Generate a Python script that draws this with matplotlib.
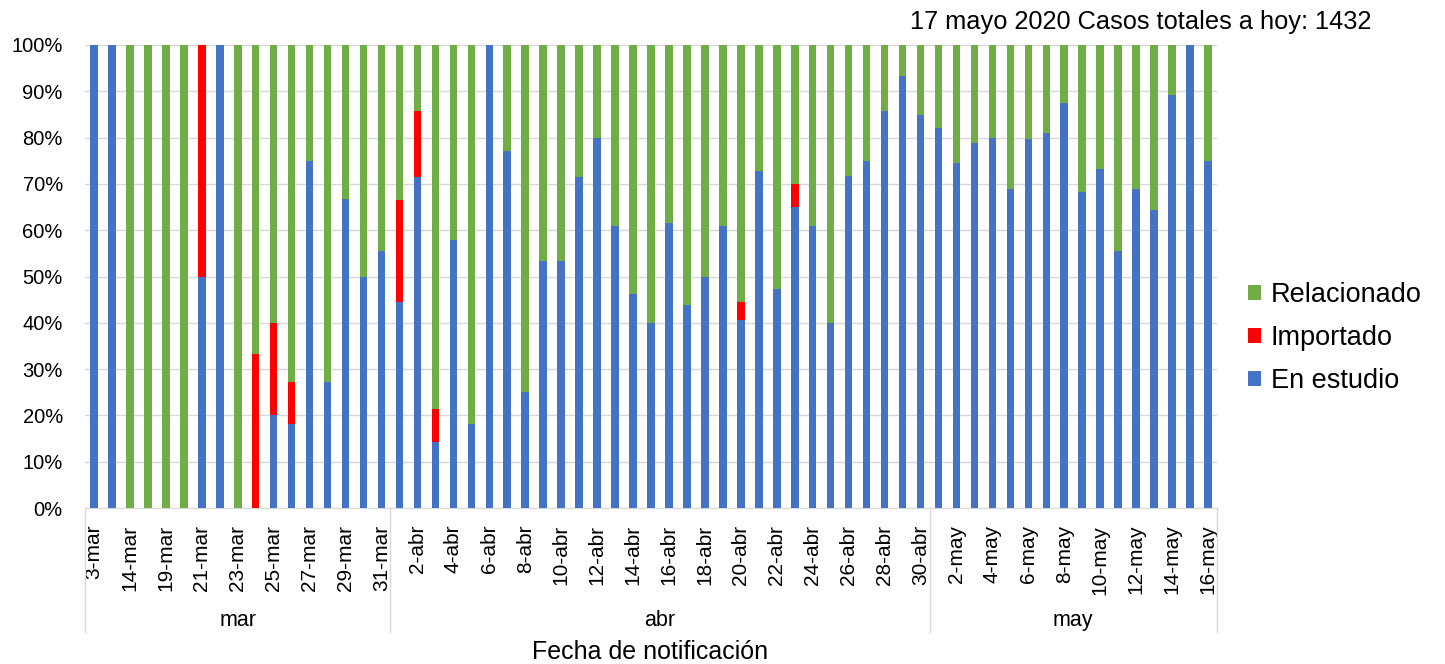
import numpy as np
import matplotlib.pyplot as plt

plt.rcParams['font.family'] = ['Liberation Sans', 'DejaVu Sans']

fechas = ['3-mar', '12-mar', '14-mar', '16-mar', '19-mar', '20-mar', '21-mar', '22-mar',
          '23-mar', '24-mar', '25-mar', '26-mar', '27-mar', '28-mar', '29-mar', '30-mar',
          '31-mar', '1-abr', '2-abr', '3-abr', '4-abr', '5-abr', '6-abr', '7-abr',
          '8-abr', '9-abr', '10-abr', '11-abr', '12-abr', '13-abr', '14-abr', '15-abr',
          '16-abr', '17-abr', '18-abr', '19-abr', '20-abr', '21-abr', '22-abr', '23-abr',
          '24-abr', '25-abr', '26-abr', '27-abr', '28-abr', '29-abr', '30-abr', '1-may',
          '2-may', '3-may', '4-may', '5-may', '6-may', '7-may', '8-may', '9-may',
          '10-may', '11-may', '12-may', '13-may', '14-may', '15-may', '16-may']

# porcentajes por dia
en_estudio = [100, 100, 0, 0, 0, 0, 50, 100, 0, 0, 20, 18.2, 75, 27.3, 66.7, 50,
              55.6, 44.4, 71.4, 14.3, 57.9, 18.2, 100, 77.1, 25, 53.3, 53.3, 71.4, 80, 61, 46.2, 40,
              61.5, 43.8, 50, 61, 40.7, 72.7, 47.4, 65, 60.9, 40, 71.8, 75, 85.7, 93.3, 84.8, 82,
              74.5, 78.8, 80, 68.8, 79.7, 80.9, 87.5, 68.3, 73.2, 55.6, 68.9, 64.3, 89.1, 100, 75]
importado = [0, 0, 0, 0, 0, 0, 50, 0, 0, 33.3, 20, 9.1, 0, 0, 0, 0,
             0, 22.2, 14.3, 7.1, 0, 0, 0, 0, 0, 0, 0, 0, 0, 0, 0, 0,
             0, 0, 0, 0, 3.7, 0, 0, 5, 0, 0, 0, 0, 0, 0, 0, 0,
             0, 0, 0, 0, 0, 0, 0, 0, 0, 0, 0, 0, 0, 0, 0]
relacionado = [0, 0, 100, 100, 100, 100, 0, 0, 100, 66.7, 60, 72.7, 25, 72.7, 33.3, 50,
               44.4, 33.3, 14.3, 78.6, 42.1, 81.8, 0, 22.9, 75, 46.7, 46.7, 28.6, 20, 39, 53.8, 60,
               38.5, 56.2, 50, 39, 55.6, 27.3, 52.6, 30, 39.1, 60, 28.2, 25, 14.3, 6.7, 15.2, 18,
               25.5, 21.2, 20, 31.2, 20.3, 19.1, 12.5, 31.7, 26.8, 44.4, 31.1, 35.7, 10.9, 0, 25]

meses = ['mar', 'abr', 'may']
mes_fin = [16.5, 46.5]  # separacion entre meses

azul = '#4472C4'
rojo = '#FF0000'
verde = '#70AD47'

fig = plt.figure(figsize=(14.45, 6.64), dpi=100)
ax = fig.add_axes([85 / 1445, 1 - 508 / 664, 1132 / 1445, 463 / 664])

x = np.arange(len(fechas))
b = np.array(en_estudio) / 100
r = np.array(importado) / 100
g = np.array(relacionado) / 100
w = 0.42
h1 = ax.bar(x, b, w, color=azul, zorder=3)
h2 = ax.bar(x, r, w, bottom=b, color=rojo, zorder=3)
h3 = ax.bar(x, g, w, bottom=b + r, color=verde, zorder=3)

ax.set_xlim(-0.5, len(fechas) - 0.5)
ax.set_ylim(0, 1)
ax.set_yticks(np.arange(0, 1.01, 0.1))
ax.set_yticklabels([f'{int(round(v * 100))}%' for v in np.arange(0, 1.01, 0.1)])
ax.grid(axis='y', color='#D9D9D9', lw=1, zorder=0)

ax.set_xticks(x[::2])
ax.set_xticklabels(fechas[::2], rotation=90, va='top', ha='center')
ax.tick_params(axis='x', length=0, pad=12, labelsize=15)
ax.tick_params(axis='y', length=0, pad=16, labelsize=14.5)

for s in ['top', 'right', 'left']:
    ax.spines[s].set_visible(False)
ax.spines['bottom'].set_color('#D9D9D9')

# etiquetas de mes y separadores
tr = ax.get_xaxis_transform()
bordes = [-0.5] + mes_fin + [len(fechas) - 0.5]
for i, m in enumerate(meses):
    ax.text((bordes[i] + bordes[i + 1]) / 2, -0.242, m, transform=tr,
            ha='center', va='center', fontsize=15.5)
for xb in bordes:
    ax.plot([xb, xb], [0, -0.268], transform=tr, color='#D9D9D9', lw=1, clip_on=False)

fig.text(650 / 1445, 1 - 652 / 664, 'Fecha de notificación', ha='center', va='center', fontsize=18)
fig.text(910 / 1445, 1 - 22 / 664, '17 mayo 2020 Casos totales a hoy: 1432', ha='left', va='center', fontsize=18.3)

fig.legend([h3, h2, h1], ['Relacionado', 'Importado', 'En estudio'],
           loc='center left', bbox_to_anchor=(1224 / 1445, 1 - 338 / 664),
           frameon=False, fontsize=19.5, handlelength=0.48, handleheight=0.48,
           handletextpad=0.35, labelspacing=0.62)

fig.savefig('out.png', dpi=100)
